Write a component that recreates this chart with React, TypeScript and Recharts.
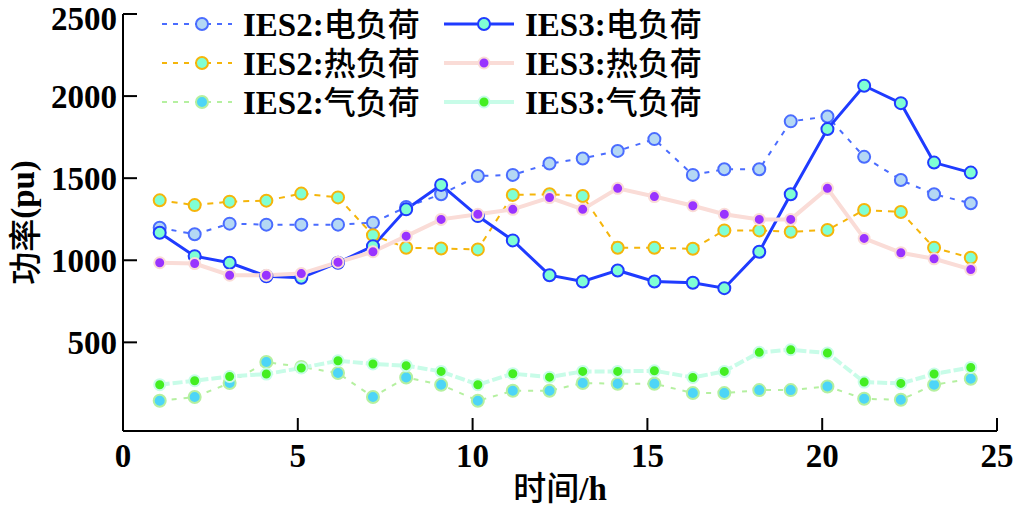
import { LineChart, Line, XAxis, YAxis, Legend, Label } from 'recharts';

// hour positions (markers drift slightly right of the integers)
const hours = [1.05, 2.05, 3.05, 4.1, 5.1, 6.15, 7.15, 8.1, 9.1, 10.15, 11.15, 12.2, 13.15, 14.15, 15.2, 16.3, 17.2, 18.2, 19.1, 20.15, 21.2, 22.25, 23.2, 24.25];

const ies2Elec = [1198, 1158, 1223, 1217, 1217, 1217, 1229, 1324, 1402, 1513, 1520, 1589, 1620, 1666, 1738, 1520, 1554, 1554, 1846, 1876, 1630, 1489, 1402, 1347];
const ies2Heat = [1365, 1336, 1357, 1363, 1406, 1383, 1153, 1076, 1072, 1066, 1398, 1402, 1391, 1076, 1076, 1070, 1182, 1182, 1174, 1184, 1306, 1294, 1076, 1015];
const ies2Gas = [144, 167, 252, 380, 350, 313, 167, 286, 242, 144, 205, 205, 252, 248, 248, 191, 191, 209, 209, 231, 156, 150, 242, 278];
const ies3Elec = [1168, 1025, 985, 903, 893, 985, 1086, 1310, 1459, 1269, 1121, 909, 871, 938, 871, 863, 830, 1052, 1402, 1799, 2063, 1957, 1595, 1534];
const ies3Heat = [985, 980, 909, 909, 919, 988, 1052, 1147, 1249, 1280, 1310, 1382, 1310, 1438, 1388, 1332, 1280, 1249, 1249, 1438, 1133, 1046, 1009, 944];
const ies3Gas = [242, 266, 292, 307, 344, 388, 368, 358, 323, 242, 309, 288, 323, 323, 327, 286, 323, 439, 455, 435, 258, 250, 307, 347];

const xTicks = [0, 5, 10, 15, 20, 25];
const yTicks = [500, 1000, 1500, 2000, 2500];

const serif = '"Liberation Serif", "Times New Roman", "Noto Sans CJK SC", serif';
const cjk = '"Noto Sans CJK SC", sans-serif';
const fs = 33;

interface SeriesDef {
  key: string; prefix: string; load: string; data: number[];
  color: string; width: number; dash?: string; legendDash?: string;
  dotFill: string; dotR: number;
}

const series: SeriesDef[] = [
  { key: 'e2', prefix: 'IES2:', load: '电负荷', data: ies2Elec, color: '#4a6cff', width: 2, dash: '5 7', legendDash: '5 6', dotFill: '#b4d8f4', dotR: 6 },
  { key: 'h2', prefix: 'IES2:', load: '热负荷', data: ies2Heat, color: '#f5b50a', width: 2, dash: '6 6', legendDash: '5 6', dotFill: '#7fffd4', dotR: 6 },
  { key: 'g2', prefix: 'IES2:', load: '气负荷', data: ies2Gas, color: '#b5f0a0', width: 2, dash: '5 7', legendDash: '5 6', dotFill: '#4dd5f7', dotR: 6 },
  { key: 'e3', prefix: 'IES3:', load: '电负荷', data: ies3Elec, color: '#1f3bff', width: 3, dotFill: '#7fffd4', dotR: 6 },
  { key: 'h3', prefix: 'IES3:', load: '热负荷', data: ies3Heat, color: '#fadcd7', width: 4, dotFill: '#9933ff', dotR: 5.5 },
  { key: 'g3', prefix: 'IES3:', load: '气负荷', data: ies3Gas, color: '#c8fce8', width: 4, dash: '10 3', dotFill: '#44ee22', dotR: 5.5 },
];

const rows = hours.map((h, i) => {
  const r: Record<string, number> = { hour: h };
  series.forEach((s) => { r[s.key] = s.data[i]; });
  return r;
});

// legend is two columns, filled row by row: IES2 left, IES3 right
const legendOrder = ['e2', 'e3', 'h2', 'h3', 'g2', 'g3'].map((k) => series.find((s) => s.key === k)!);

const LegendBox = () => (
  <div style={{ display: 'grid', gridTemplateColumns: '282px 282px' }}>
    {legendOrder.map((s) => (
      <div key={s.key} style={{ display: 'flex', alignItems: 'center', height: 39 }}>
        <svg width={76} height={20} style={{ display: 'block' }}>
          <line x1={2} x2={72} y1={10} y2={10} stroke={s.color} strokeWidth={s.width} strokeDasharray={s.legendDash} />
          <circle cx={42} cy={10} r={s.dotR} fill={s.dotFill} stroke={s.color} strokeWidth={2} />
        </svg>
        <span style={{ marginLeft: 7, fontSize: fs, lineHeight: '39px', color: '#000', whiteSpace: 'nowrap' }}>
          <span style={{ fontFamily: serif, fontWeight: 'bold' }}>{s.prefix}</span>
          <span style={{ fontFamily: cjk, fontWeight: 500, fontSize: 32 }}>{s.load}</span>
        </span>
      </div>
    ))}
  </div>
);

export default function App() {
  return (
    <div style={{ position: 'absolute', left: 0, top: 0, width: 1015, height: 509, background: '#fff' }}>
      <LineChart width={1015} height={509} data={rows} margin={{ top: 14, right: 18, bottom: 0, left: 0 }}>
        <XAxis
          dataKey="hour" type="number" domain={[0, 25]} ticks={xTicks} height={78}
          axisLine={{ stroke: '#000', strokeWidth: 2 }} tickLine={{ stroke: '#000', strokeWidth: 2 }}
          tickSize={-13} tickMargin={26}
          tick={{ fontSize: fs, fontWeight: 'bold', fill: '#000', fontFamily: serif }}
        >
          <Label
            content={({ viewBox }: any) => (
              <text x={viewBox.x + viewBox.width / 2} y={500} textAnchor="middle" fontSize={fs} fill="#000">
                <tspan fontFamily={cjk} fontWeight={500}>时间</tspan>
                <tspan fontFamily={serif} fontWeight="bold">/h</tspan>
              </text>
            )}
          />
        </XAxis>
        <YAxis
          type="number" domain={[-40, 2500]} ticks={yTicks} width={123}
          axisLine={{ stroke: '#000', strokeWidth: 2 }} tickLine={{ stroke: '#000', strokeWidth: 2 }}
          tickSize={-14} tickMargin={20}
          tick={{ fontSize: fs, fontWeight: 'bold', fill: '#000', fontFamily: serif }}
        >
          <Label
            content={({ viewBox }: any) => {
              const cy = viewBox.y + viewBox.height / 2;
              return (
                <text x={23} y={cy} transform={`rotate(-90 23 ${cy})`} textAnchor="middle" dominantBaseline="central" fontSize={fs} fill="#000">
                  <tspan fontFamily={cjk} fontWeight={500}>功率</tspan>
                  <tspan fontFamily={serif} fontWeight="bold">(pu)</tspan>
                </text>
              );
            }}
          />
        </YAxis>
        <Legend
          layout="horizontal" verticalAlign="middle" align="center"
          content={() => <LegendBox />}
          wrapperStyle={{ position: 'absolute', left: 160, top: 4, width: 'auto', height: 'auto' }}
        />
        {series.map((s) => (
          <Line
            key={s.key} type="linear" dataKey={s.key} name={s.prefix + s.load}
            stroke={s.color} strokeWidth={s.width} strokeDasharray={s.dash}
            dot={{ r: s.dotR, fill: s.dotFill, stroke: s.color, strokeWidth: 2, strokeDasharray: 'none' }}
            activeDot={false} isAnimationActive={false}
          />
        ))}
      </LineChart>
    </div>
  );
}
